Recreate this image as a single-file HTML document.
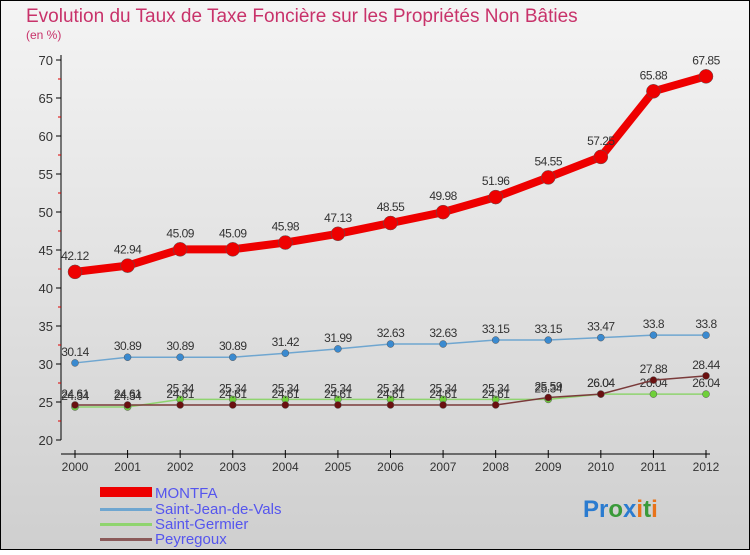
<!DOCTYPE html>
<html><head><meta charset="utf-8"><style>
body{margin:0;background:#fff}
#c{position:relative;width:750px;height:550px;font-family:"Liberation Sans",sans-serif}
</style></head><body>
<div id="c">
<svg id="s" width="750" height="550" xmlns="http://www.w3.org/2000/svg">
<defs><linearGradient id="bg" x1="0" y1="0" x2="0" y2="1"><stop offset="0" stop-color="#f4f4f4"/><stop offset="1" stop-color="#cfcfcf"/></linearGradient></defs>
<rect x="0.5" y="0.5" width="749" height="549" fill="url(#bg)" stroke="#000"/>
<text x="26" y="22" font-size="19" fill="#c8326a">Evolution du Taux de Taxe Foncière sur les Propriétés Non Bâties</text>
<text x="26" y="39" font-size="12" fill="#c8326a">(en %)</text>
<g id="axes"></g><g id="series"></g>
<g>
<rect x="100" y="487" width="52" height="10" fill="#e00"/>
<text x="155" y="498" font-size="15" fill="#5555ee">MONTFA</text>
<rect x="100" y="508" width="52" height="3" fill="#6fa6d0"/>
<text x="155" y="514" font-size="15" fill="#5555ee">Saint-Jean-de-Vals</text>
<rect x="100" y="523" width="52" height="3" fill="#8fd46f"/>
<text x="155" y="529" font-size="15" fill="#5555ee">Saint-Germier</text>
<rect x="100" y="538" width="52" height="3" fill="#8b5a5a"/>
<text x="155" y="544" font-size="15" fill="#5555ee">Peyregoux</text>
</g>
<text x="583" y="517" font-size="24" font-weight="bold"><tspan fill="#2a7bd0">Pr</tspan><tspan fill="#3a9a3a">o</tspan><tspan fill="#2a7bd0">x</tspan><tspan fill="#e8731a">i</tspan><tspan fill="#3a9a3a">t</tspan><tspan fill="#e8731a">i</tspan></text>
</svg></div>
<script>
const years=[2000,2001,2002,2003,2004,2005,2006,2007,2008,2009,2010,2011,2012];
const montfa=[42.12,42.94,45.09,45.09,45.98,47.13,48.55,49.98,51.96,54.55,57.25,65.88,67.85];
const stJean=[30.14,30.89,30.89,30.89,31.42,31.99,32.63,32.63,33.15,33.15,33.47,33.8,33.8];
const stGermier=[24.34,24.34,25.34,25.34,25.34,25.34,25.34,25.34,25.34,25.34,26.04,26.04,26.04];
const peyregoux=[24.61,24.61,24.61,24.61,24.61,24.61,24.61,24.61,24.61,25.59,26.04,27.88,28.44];
const yTicks=[20,25,30,35,40,45,50,55,60,65,70];
const NS="http://www.w3.org/2000/svg";
const xS=i=>75+i*(706-75)/(years.length-1);
const yS=v=>440-(v-20)*7.6;
function mk(t,a,p){const e=document.createElementNS(NS,t);for(const k in a)e.setAttribute(k,a[k]);p.appendChild(e);return e;}
const ax=document.getElementById('axes');
let l=mk('line',{x1:61,y1:55,x2:61,y2:440,stroke:'#000','stroke-width':1},ax);


l=mk('line',{x1:61,y1:454,x2:710,y2:454,stroke:'#000','stroke-width':1},ax);


yTicks.forEach((v,i)=>{
 mk('line',{x1:56,y1:yS(v),x2:61,y2:yS(v),stroke:'#000'},ax);
 if(i<yTicks.length-1)mk('line',{x1:58,y1:yS(v+2.5),x2:61,y2:yS(v+2.5),stroke:'#d00'},ax);
 const t=mk('text',{x:53,y:yS(v)+5,'font-size':13,fill:'#333','text-anchor':'end'},ax);
 t.textContent=v;
 
 
});
years.forEach((y,i)=>{
 mk('line',{x1:xS(i),y1:450,x2:xS(i),y2:458,stroke:'#000'},ax);
 const t=mk('text',{x:xS(i),y:471,'font-size':12,fill:'#333','text-anchor':'middle'},ax);
 t.textContent=y;
 
 
});
const sg=document.getElementById('series');
function draw(vals,name,color,w,r,dot,labelOff){
 const g=mk('g',{},sg);
 
 
 const p=mk('polyline',{points:vals.map((v,i)=>xS(i)+','+yS(v)).join(' '),fill:'none',stroke:color,'stroke-width':w,'stroke-linejoin':'round'},g);
 
 
 vals.forEach((v,i)=>{
  const c=mk('circle',{cx:xS(i),cy:yS(v),r:r,fill:dot,stroke:'#555','stroke-width':0.5},g);
  
  
  const t=mk('text',{x:xS(i),y:yS(v)-labelOff,'font-size':12,fill:'#333','text-anchor':'middle','letter-spacing':'-0.5'},g);
  t.textContent=v;
  
  
 });
}
draw(montfa,'montfa','#e00',8,7,'#e00',12);
draw(stJean,'saint-jean-de-vals','#6fa6d0',1.5,3.5,'#3a8ad0',7);
draw(stGermier,'saint-germier','#8fd46f',1.5,3.5,'#6fd03a',7);
draw(peyregoux,'peyregoux','#7a3a3a',1.5,3.5,'#6a1010',7);
</script>
</body></html>
